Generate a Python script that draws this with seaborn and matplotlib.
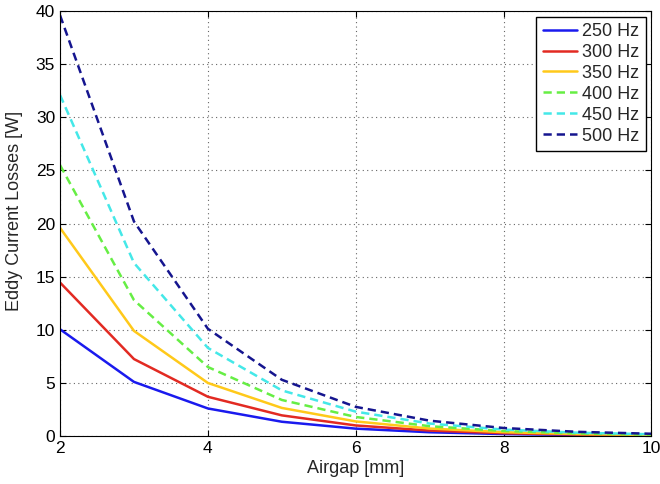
import numpy as np
import pandas as pd
import seaborn as sns
import matplotlib.pyplot as plt

# ------------------------------- data ------------------------------- #
airgap = [2, 3, 4, 5, 6, 7, 8, 9, 10]
loss_250 = [10.05, 5.1, 2.6, 1.35, 0.7, 0.36, 0.19, 0.1, 0.05]
loss_300 = [14.45, 7.25, 3.7, 1.95, 1.0, 0.52, 0.27, 0.14, 0.07]
loss_350 = [19.6, 9.9, 5.0, 2.65, 1.38, 0.71, 0.37, 0.19, 0.1]
loss_400 = [25.5, 12.8, 6.5, 3.4, 1.8, 0.93, 0.48, 0.25, 0.13]
loss_450 = [32.1, 16.3, 8.3, 4.3, 2.3, 1.18, 0.61, 0.32, 0.17]
loss_500 = [39.6, 20.2, 10.1, 5.3, 2.75, 1.45, 0.76, 0.4, 0.22]
labels = ['250 Hz', '300 Hz', '350 Hz', '400 Hz', '450 Hz', '500 Hz']

# ------------------------------- style ------------------------------- #
colors = ['#1a1aee', '#e22a22', '#ffc91a', '#66ee44', '#44e8e8', '#15158f']
dash_styles = ['', '', '', (3.3, 2), (3.3, 2), (3.3, 2)]

sns.set_style('ticks')
plt.rcParams['font.family'] = ['Liberation Sans', 'DejaVu Sans']

series = [loss_250, loss_300, loss_350, loss_400, loss_450, loss_500]
df = pd.concat(
    [pd.DataFrame({'airgap': airgap, 'loss': s, 'freq': lab}) for s, lab in zip(series, labels)],
    ignore_index=True,
)

fig = plt.figure(figsize=(6.6, 4.84), dpi=100)
ax = fig.add_axes([0.091, 0.099, 0.896, 0.878])

sns.lineplot(
    data=df, x='airgap', y='loss', hue='freq', style='freq',
    hue_order=labels, style_order=labels,
    palette=dict(zip(labels, colors)),
    dashes=dict(zip(labels, dash_styles)),
    linewidth=1.8, ax=ax,
)

ax.set_xlim(2, 10)
ax.set_ylim(0, 40)
ax.set_xticks([2, 4, 6, 8, 10])
ax.set_yticks(np.arange(0, 41, 5))
ax.set_xlabel('Airgap [mm]', fontsize=13, labelpad=3)
ax.set_ylabel('Eddy Current Losses [W]', fontsize=13)
ax.yaxis.set_label_coords(-0.062, 0.53)
ax.tick_params(direction='in', labelsize=12.5, length=4, top=True, right=True, colors='black')
ax.grid(True, linestyle=(0, (1, 3)), color='#666666', linewidth=0.8)
for sp in ax.spines.values():
    sp.set_visible(True)
    sp.set_color('black')
    sp.set_linewidth(0.8)

leg = ax.legend(loc='upper right', fontsize=13, fancybox=False, framealpha=1,
                edgecolor='black', handlelength=1.9, borderaxespad=0.3,
                labelspacing=0.22, handletextpad=0.3, borderpad=0.35)
leg.get_frame().set_linewidth(1.0)

plt.savefig('out.png', dpi=100)
